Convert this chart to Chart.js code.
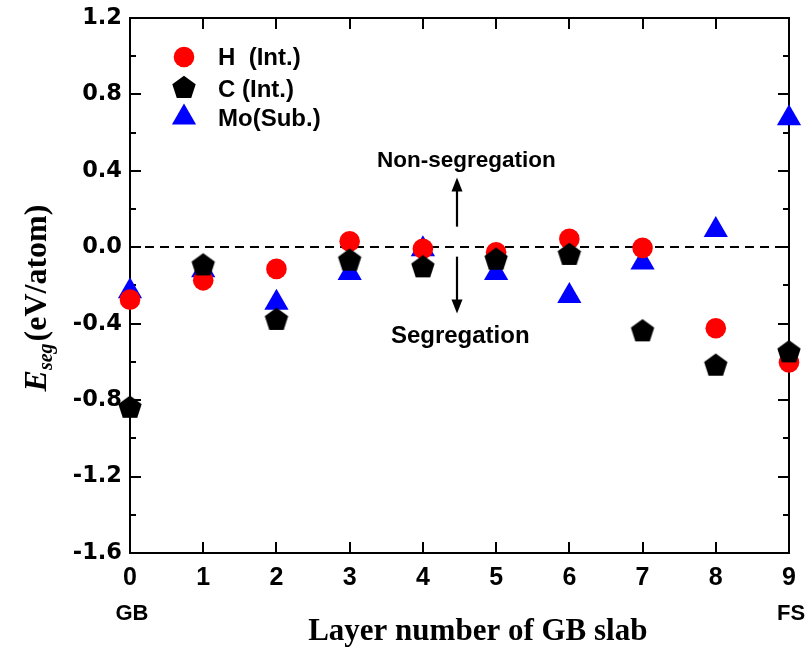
<!DOCTYPE html>
<html><head><meta charset="utf-8">
<script src="https://cdn.jsdelivr.net/npm/chart.js@4.4.0/dist/chart.umd.min.js"></script>
<style>html,body{margin:0;padding:0;background:#fff;} canvas{display:block;}</style>
</head><body>
<canvas id="c" width="806" height="650"></canvas>
<script>
// ---- data ----
const layers   = [0, 1, 2, 3, 4, 5, 6, 7, 8, 9];
const hValues  = [-0.274, -0.173, -0.113, 0.031, -0.008, -0.026, 0.044, -0.003, -0.424, -0.603];
const cValues  = [-0.84, -0.095, -0.38, -0.07, -0.105, -0.065, -0.04, -0.44, -0.62, -0.55];
const moValues = [-0.23, -0.12, -0.29, -0.135, -0.01, -0.135, -0.255, -0.08, 0.09, 0.675];
const seriesNames = ['H  (Int.)', 'C (Int.)', 'Mo(Sub.)'];
const xTickValues = [0, 1, 2, 3, 4, 5, 6, 7, 8, 9];
const xEndLabels = ['GB', 'FS'];
const yTickValues = [-1.6, -1.2, -0.8, -0.4, 0.0, 0.4, 0.8, 1.2];
const yMinorTickValues = [-1.4, -1.0, -0.6, -0.2, 0.2, 0.6, 1.0];
const annotUp = 'Non-segregation';
const annotDown = 'Segregation';

// ---- styles ----
const RED = '#ff0000', BLACK = '#000000', BLUE = '#0000ff';
const CIRCLE_R = 10.3, TRI_R = 14, PENT_R = 12.3;

function makePentagon(R, color) {
  const s = 2 * Math.ceil(R + 1);
  const c = document.createElement('canvas');
  c.width = s; c.height = s;
  const g = c.getContext('2d');
  g.fillStyle = color;
  g.beginPath();
  for (let i = 0; i < 5; i++) {
    const a = -Math.PI / 2 + i * 2 * Math.PI / 5;
    const px = s / 2 + R * Math.cos(a), py = s / 2 + R * Math.sin(a);
    if (i) g.lineTo(px, py); else g.moveTo(px, py);
  }
  g.closePath(); g.fill();
  return c;
}
const pentagon = makePentagon(PENT_R, BLACK);

const toXY = (ys) => layers.map((x, i) => ({ x: x, y: ys[i] }));

const SANS = '"Liberation Sans", Arial, sans-serif';
const SERIF = '"Liberation Serif", "Times New Roman", serif';

const framePlugin = {
  id: 'frame',
  beforeDatasetsDraw(chart) {
    const { ctx, chartArea: a, scales: { x, y } } = chart;
    ctx.save();
    ctx.strokeStyle = '#000';
    ctx.lineWidth = 2;
    ctx.lineCap = 'square';
    ctx.strokeRect(a.left, a.top, a.right - a.left, a.bottom - a.top);
    ctx.lineCap = 'butt';
    ctx.beginPath();
    xTickValues.forEach(v => {
      const px = Math.round(x.getPixelForValue(v));
      ctx.moveTo(px, a.bottom); ctx.lineTo(px, a.bottom - 11);
      ctx.moveTo(px, a.top); ctx.lineTo(px, a.top + 11);
    });
    yTickValues.forEach(v => {
      const py = Math.round(y.getPixelForValue(v));
      ctx.moveTo(a.left, py); ctx.lineTo(a.left + 11, py);
      ctx.moveTo(a.right, py); ctx.lineTo(a.right - 11, py);
    });
    yMinorTickValues.forEach(v => {
      const py = Math.round(y.getPixelForValue(v));
      ctx.moveTo(a.left, py); ctx.lineTo(a.left + 6, py);
      ctx.moveTo(a.right, py); ctx.lineTo(a.right - 6, py);
    });
    ctx.stroke();
    // dashed zero line
    const y0 = Math.round(y.getPixelForValue(0));
    ctx.setLineDash([9, 6]);
    ctx.beginPath();
    ctx.moveTo(a.left, y0); ctx.lineTo(a.right, y0);
    ctx.stroke();
    ctx.restore();
  },
  afterDatasetsDraw(chart) {
    const { ctx, scales: { x, y } } = chart;
    ctx.save();
    // arrows
    const ax = Math.round(x.getPixelForValue(4.462));
    function arrow(yFrom, yTip) {
      const p0 = y.getPixelForValue(yFrom), p1 = y.getPixelForValue(yTip);
      const dir = p1 > p0 ? 1 : -1;
      ctx.strokeStyle = '#000'; ctx.lineWidth = 2.2;
      ctx.beginPath(); ctx.moveTo(ax, p0); ctx.lineTo(ax, p1 - dir * 10); ctx.stroke();
      ctx.fillStyle = '#000';
      ctx.beginPath();
      ctx.moveTo(ax, p1);
      ctx.lineTo(ax - 5.5, p1 - dir * 14);
      ctx.lineTo(ax + 5.5, p1 - dir * 14);
      ctx.closePath(); ctx.fill();
    }
    arrow(0.108, 0.365);
    arrow(-0.049, -0.347);
    ctx.fillStyle = '#000';
    ctx.textAlign = 'center';
    ctx.textBaseline = 'alphabetic';
    ctx.font = 'bold 22.5px ' + SANS;
    ctx.fillText(annotUp, x.getPixelForValue(4.594), y.getPixelForValue(0.42));
    ctx.font = 'bold 24px ' + SANS;
    ctx.fillText(annotDown, x.getPixelForValue(4.51), y.getPixelForValue(-0.50));

    // legend
    const lx = 184, ly = [57, 88, 117.5];
    ctx.fillStyle = RED;
    ctx.beginPath(); ctx.arc(lx, ly[0], CIRCLE_R, 0, Math.PI * 2); ctx.fill();
    ctx.drawImage(pentagon, lx - pentagon.width / 2, ly[1] - pentagon.height / 2);
    ctx.fillStyle = BLUE;
    ctx.beginPath();
    for (let i = 0; i < 3; i++) {
      const r = i * 2 * Math.PI / 3;
      const px = lx + Math.sin(r) * TRI_R, py = ly[2] - Math.cos(r) * TRI_R;
      if (i) ctx.lineTo(px, py); else ctx.moveTo(px, py);
    }
    ctx.closePath(); ctx.fill();
    ctx.fillStyle = '#000';
    ctx.textAlign = 'left';
    ctx.font = 'bold 24px ' + SANS;
    ctx.fillText(seriesNames[0], 218, 65);
    ctx.fillText(seriesNames[1], 218, 97);
    ctx.fillText(seriesNames[2], 218, 126);
    ctx.restore();
  },
  afterDraw(chart) {
    const { ctx, scales: { x } } = chart;
    ctx.save();
    ctx.fillStyle = '#000';
    // end labels GB / FS
    ctx.font = 'bold 22px ' + SANS;
    ctx.textAlign = 'center';
    ctx.textBaseline = 'middle';
    ctx.fillText(xEndLabels[0], x.getPixelForValue(xTickValues[0]) + 2, 614);
    ctx.fillText(xEndLabels[1], x.getPixelForValue(xTickValues[xTickValues.length - 1]) + 2, 614);
    // x title
    ctx.textBaseline = 'alphabetic';
    ctx.font = 'bold 31px ' + SERIF;
    ctx.fillText('Layer number of GB slab', x.getPixelForValue(4.75), 640);
    // y title (rotated)
    ctx.translate(46, 298);
    ctx.rotate(-Math.PI / 2);
    const fE = 'italic bold 32px ' + SERIF, fS = 'italic bold 20px ' + SERIF, fM = 'bold 32px ' + SERIF;
    ctx.font = fE; const wE = ctx.measureText('E').width;
    ctx.font = fS; const wS = ctx.measureText('seg').width;
    ctx.font = fM; const wM = ctx.measureText('(eV/atom)').width;
    const total = wE + wS + 2 + wM;
    let cx = -total / 2;
    ctx.textAlign = 'left';
    ctx.font = fE; ctx.fillText('E', cx, 0); cx += wE;
    ctx.font = fS; ctx.fillText('seg', cx, 6); cx += wS + 2;
    ctx.font = fM; ctx.fillText('(eV/atom)', cx, 0);
    ctx.restore();
  }
};

new Chart(document.getElementById('c'), {
  type: 'scatter',
  data: {
    datasets: [
      { label: seriesNames[0], data: toXY(hValues), order: 1,
        pointStyle: 'circle', pointRadius: CIRCLE_R, pointHoverRadius: CIRCLE_R,
        backgroundColor: RED, borderWidth: 0, clip: false },
      { label: seriesNames[1], data: toXY(cValues), order: 0,
        pointStyle: pentagon, pointRadius: PENT_R, pointHoverRadius: PENT_R,
        backgroundColor: BLACK, borderWidth: 0, clip: false },
      { label: seriesNames[2], data: toXY(moValues), order: 2,
        pointStyle: 'triangle', pointRadius: TRI_R, pointHoverRadius: TRI_R,
        backgroundColor: BLUE, borderWidth: 0, clip: false }
    ]
  },
  options: {
    responsive: false,
    animation: false,
    devicePixelRatio: 1,
    layout: { padding: { top: 18, right: 17, left: 0, bottom: 0 } },
    plugins: { legend: { display: false }, tooltip: { enabled: false }, title: { display: false } },
    scales: {
      x: {
        type: 'linear', min: 0, max: 9,
        grid: { display: false, drawTicks: false },
        border: { display: false },
        afterBuildTicks: (s) => { s.ticks = xTickValues.map(v => ({ value: v })); },
        afterFit: (s) => { s.height = 97; s.paddingLeft = 0; s.paddingRight = 0; },
        ticks: {
          padding: 10, color: '#000', maxRotation: 0, autoSkip: false,
          font: { family: SANS, weight: 'bold', size: 25 },
          callback: (v) => String(v)
        }
      },
      y: {
        type: 'linear', min: -1.6, max: 1.2,
        grid: { display: false, drawTicks: false },
        border: { display: false },
        afterBuildTicks: (s) => { s.ticks = yTickValues.map(v => ({ value: v })); },
        afterFit: (s) => { s.width = 130; s.paddingTop = 0; s.paddingBottom = 0; },
        ticks: {
          padding: 8, color: '#000', autoSkip: false,
          font: { family: '"DejaVu Sans", sans-serif', weight: 'bold', size: 22.5 },
          callback: (v) => Number(v).toFixed(1)
        }
      }
    }
  },
  plugins: [framePlugin]
});
</script>
</body></html>
